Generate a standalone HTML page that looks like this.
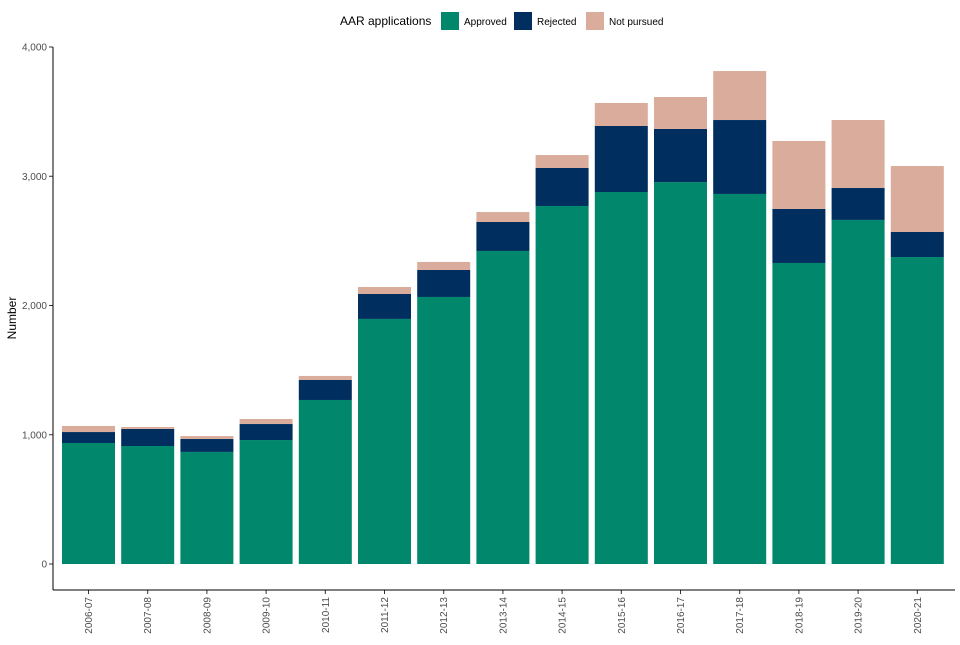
<!DOCTYPE html>
<html><head><meta charset="utf-8"><style>
body{margin:0;background:#fff;font-family:"Liberation Sans",Arial,sans-serif}
svg text{font-family:"Liberation Sans",Arial,sans-serif}
</style></head><body>
<svg id="chart" width="960" height="640" xmlns="http://www.w3.org/2000/svg">
<g id="legend">
<text x="340" y="25" font-size="12" fill="#000">AAR applications</text>
<rect x="441" y="12" width="18" height="18" fill="#00876C"/>
<text x="464" y="25" font-size="10">Approved</text>
<rect x="514" y="12" width="18" height="18" fill="#002F5F"/>
<text x="537" y="25" font-size="10">Rejected</text>
<rect x="586" y="12" width="18" height="18" fill="#D9AC9B"/>
<text x="609" y="25" font-size="10">Not pursued</text>
</g>
<text transform="translate(16,318) rotate(-90)" text-anchor="middle" font-size="12">Number</text>
<g id="bars"></g>
<g id="axes"></g>
</svg>
<script>
const categories=["2006-07","2007-08","2008-09","2009-10","2010-11","2011-12","2012-13","2013-14","2014-15","2015-16","2016-17","2017-18","2018-19","2019-20","2020-21"];
const approved=[936,913,867,959,1269,1896,2066,2422,2770,2878,2955,2863,2329,2662,2375];
const rejected=[85,132,100,124,155,193,209,224,294,511,411,572,418,247,194];
const notPursued=[47,15,23,39,31,54,62,77,100,178,247,379,526,526,510];
const yTicks=[0,1000,2000,3000,4000];
const yTickLabels=["0","1,000","2,000","3,000","4,000"];
const colors=["#00876C","#002F5F","#D9AC9B"];
const names=["approved","rejected","not-pursued"];
const NS="http://www.w3.org/2000/svg";
const y=v=>564-v*0.12925;
const bandStart=62,step=59.2,bw=53;
const x=i=>bandStart+i*step;
const bars=document.getElementById('bars'),axes=document.getElementById('axes');
function mk(t,a,p){const e=document.createElementNS(NS,t);for(const k in a)e.setAttribute(k,a[k]);p.appendChild(e);return e;}
categories.forEach((c,i)=>{
  let base=0;
  [approved[i],rejected[i],notPursued[i]].forEach((v,s)=>{
    const r=mk('rect',{x:x(i),y:y(base+v),width:bw,height:y(base)-y(base+v),fill:colors[s]},bars);
    
    
    base+=v;
  });
  const cx=x(i)+bw/2;
  const t=mk('line',{x1:cx,x2:cx,y1:590,y2:594,stroke:'#333'},axes);
  
  
  const l=mk('text',{transform:`translate(${cx+3.5},597) rotate(-90)`,'text-anchor':'end','font-size':'10',fill:'#4d4d4d'},axes);
  l.textContent=c;
  
  
});
yTicks.forEach((v,i)=>{
  const t=mk('line',{x1:49,x2:53,y1:y(v),y2:y(v),stroke:'#333'},axes);
  
  
  const l=mk('text',{x:47,y:y(v)+3.5,'text-anchor':'end','font-size':'10',fill:'#4d4d4d'},axes);
  l.textContent=yTickLabels[i];
  
  
});
const ya=mk('line',{x1:53,x2:53,y1:y(4000),y2:590,stroke:'#000'},axes);


const xa=mk('line',{x1:53,x2:955,y1:590,y2:590,stroke:'#000'},axes);


</script>
</body></html>
